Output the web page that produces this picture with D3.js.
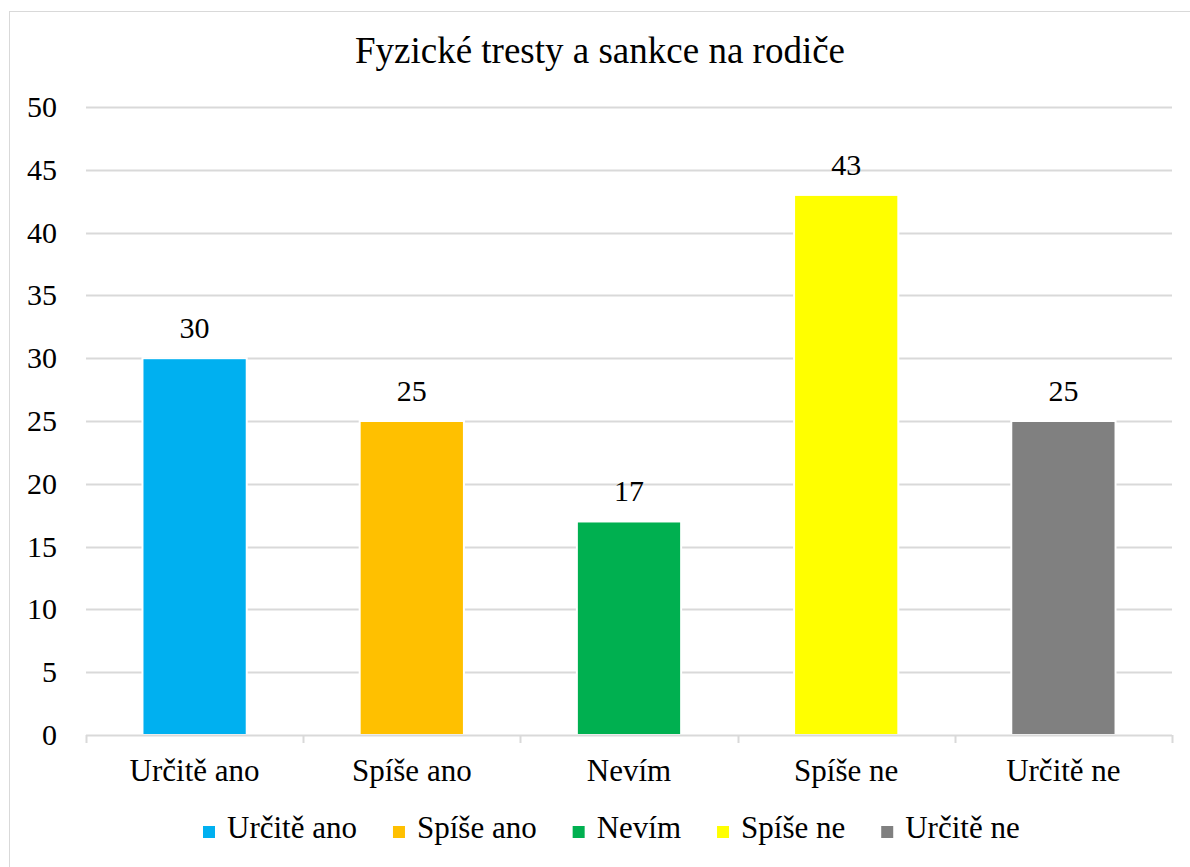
<!DOCTYPE html>
<html>
<head>
<meta charset="utf-8">
<script src="https://cdn.jsdelivr.net/npm/d3@7"></script>
</head>
<body style="margin:0">
<div id="chart"></div>
<script>
// chart data
const categories = ["Určitě ano", "Spíše ano", "Nevím", "Spíše ne", "Určitě ne"];
const values = [30, 25, 17, 43, 25];
const colors = ["#00B0F0", "#FFC000", "#00B050", "#FFFF00", "#808080"];
const yTicks = [0, 5, 10, 15, 20, 25, 30, 35, 40, 45, 50];
const title = "Fyzické tresty a sankce na rodiče";

const width = 1190, height = 867;
const plot = {left: 86, right: 1172, top: 107, bottom: 735};
const FONT = "Liberation Serif";

let svg = d3.select("#chart")
    .append("svg")
    .attr("width", width)
    .attr("height", height);

// outer frame (right and bottom edges fall outside the picture)
svg.append("rect")
    .attr("x", 9.5).attr("y", 11.5)
    .attr("width", 1200).attr("height", 880)
    .attr("fill", "#fff")
    .attr("stroke", "#d9d9d9")
    .attr("stroke-width", 1);

svg.append("text")
    .attr("x", 600).attr("y", 63)
    .attr("font-family", FONT)
    .attr("font-size", 37)
    .attr("text-anchor", "middle")
    .text(title);

let x = d3.scaleBand()
    .domain(categories)
    .range([plot.left, plot.right])
    .paddingInner(0.52)
    .paddingOuter(0.26);

let y = d3.scaleLinear()
    .domain([0, 50])
    .range([plot.bottom, plot.top]);

// gridlines
svg.append("g")
    .selectAll("line")
    .data(yTicks.slice(1))
    .enter()
    .append("line")
    .attr("x1", plot.left).attr("x2", plot.right)
    .attr("y1", d => Math.round(y(d)) + 0.5)
    .attr("y2", d => Math.round(y(d)) + 0.5)
    .attr("stroke", "#d9d9d9")
    .attr("stroke-width", 2);

// y tick labels
svg.append("g")
    .selectAll("text")
    .data(yTicks)
    .enter()
    .append("text")
    .attr("x", 57)
    .attr("y", d => y(d) + 10)
    .attr("font-family", FONT)
    .attr("font-size", 30)
    .attr("text-anchor", "end")
    .text(d => d);

// bars
svg.append("g")
    .selectAll("rect")
    .data(values)
    .enter()
    .append("rect")
    .attr("x", (d, i) => x(categories[i]))
    .attr("y", d => y(d))
    .attr("width", x.bandwidth())
    .attr("height", d => plot.bottom - y(d))
    .attr("fill", (d, i) => colors[i])
    .attr("stroke", "#fff")
    .attr("stroke-width", 2);

// value labels
svg.append("g")
    .selectAll("text")
    .data(values)
    .enter()
    .append("text")
    .attr("x", (d, i) => x(categories[i]) + x.bandwidth() / 2)
    .attr("y", d => y(d) - 20)
    .attr("font-family", FONT)
    .attr("font-size", 30)
    .attr("text-anchor", "middle")
    .text(d => d);

// x axis line and boundary ticks
let step = (plot.right - plot.left) / categories.length;
let axisG = svg.append("g");
axisG.append("line")
    .attr("x1", plot.left).attr("x2", plot.right)
    .attr("y1", plot.bottom + 0.5).attr("y2", plot.bottom + 0.5)
    .attr("stroke", "#d9d9d9").attr("stroke-width", 2);
axisG.selectAll(".tk")
    .data(d3.range(categories.length + 1))
    .enter()
    .append("line")
    .attr("class", "tk")
    .attr("x1", i => Math.round(plot.left + i * step) + 0.5)
    .attr("x2", i => Math.round(plot.left + i * step) + 0.5)
    .attr("y1", plot.bottom).attr("y2", plot.bottom + 8)
    .attr("stroke", "#d9d9d9").attr("stroke-width", 2);

// category labels
svg.append("g")
    .selectAll("text")
    .data(categories)
    .enter()
    .append("text")
    .attr("x", d => x(d) + x.bandwidth() / 2)
    .attr("y", 781)
    .attr("font-family", FONT)
    .attr("font-size", 31)
    .attr("text-anchor", "middle")
    .text(d => d);

// legend, laid out from the measured text widths
let legend = svg.append("g");
let lx = 203;
categories.forEach((c, i) => {
    let item = legend.append("g").attr("transform", `translate(${lx}, 0)`);
    item.append("rect")
        .attr("x", 0).attr("y", 826)
        .attr("width", 12).attr("height", 12)
        .attr("fill", colors[i]);
    let t = item.append("text")
        .attr("x", 24).attr("y", 838)
        .attr("font-family", FONT)
        .attr("font-size", 31)
        .text(c);
    lx += 24 + t.node().getComputedTextLength() + 36;
});
</script>
</body>
</html>
